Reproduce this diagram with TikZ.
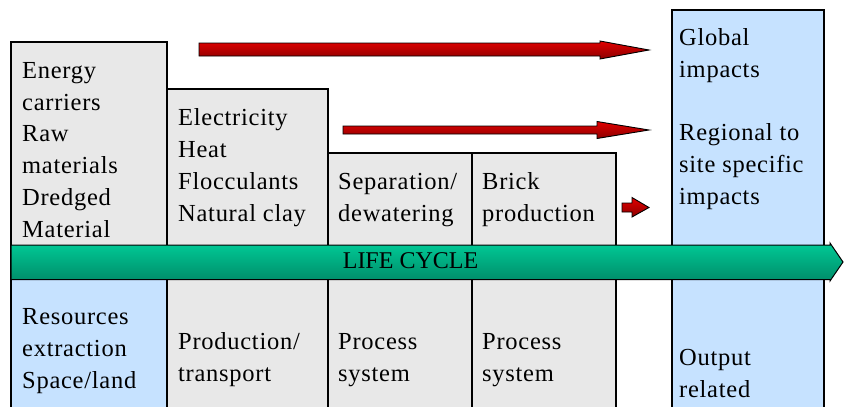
\documentclass[tikz,border=0pt]{standalone}
\usepackage{fontspec}
\setmainfont{Liberation Serif}
\newfontfamily\cellfont[LetterSpace=3]{Liberation Serif}
\definecolor{cellgray}{RGB}{232,232,232}
\definecolor{cellblue}{RGB}{198,226,255}
\definecolor{lcTop}{RGB}{0,202,150}
\definecolor{lcBot}{RGB}{0,140,105}
\definecolor{flowTop}{RGB}{225,0,0}
\definecolor{flowMid}{RGB}{235,0,0}
\definecolor{flowBot}{RGB}{140,0,0}
\begin{document}
\begin{tikzpicture}[x=1pt,y=-1pt,
  stage/.style={draw=black, line width=1.2pt, fill=cellgray},
  impact/.style={draw=black, line width=1.2pt, fill=cellblue},
  % multi-line labels are placed by the baseline of their last line
  label/.style={anchor=base west, inner sep=0pt, align=left,
    font=\cellfont\fontsize{24.5}{31.7}\selectfont},
  flow/.style={draw=black, line width=0.9pt, top color=flowTop,
    middle color=flowMid, bottom color=flowBot},
  lifecycle/.style={draw=black, line width=1pt, top color=lcTop,
    middle color=lcTop!92!black, bottom color=lcBot}]
\useasboundingbox (0,0) rectangle (844,407);
\clip (0,0) rectangle (844,407);

% upper row: inputs of each stage
\draw[stage] (11,42) rectangle (167,262);
\draw[stage] (167,89) rectangle (328,262);
\draw[stage] (328,153) rectangle (472,262);
\draw[stage] (472,153) rectangle (616,262);

% lower row: stage categories
\draw[impact] (11,262) rectangle (167,420);
\draw[stage] (167,262) rectangle (328,420);
\draw[stage] (328,262) rectangle (472,420);
\draw[stage] (472,262) rectangle (616,420);

% impact column on the right
\draw[impact] (672,10) rectangle (824,420);

% life cycle arrow
\draw[lifecycle] (11,245) -- (830,245) -- (830,243) -- (843,262)
  -- (830,281) -- (830,279.5) -- (11,279.5) -- cycle;
\node[anchor=base, inner sep=0pt, font=\fontsize{24}{28}\selectfont]
  (lc) at (410.5,268) {LIFE CYCLE};

% emission arrows towards the impact column
\draw[flow] (199,43) -- (600,43) -- (600,41) -- (649,50) -- (600,59)
  -- (600,56) -- (199,56) -- cycle;
\draw[flow] (343,126) -- (597,126) -- (597,121.5) -- (649,130)
  -- (597,138.5) -- (597,134) -- (343,134) -- cycle;
\draw[flow] (622,203) -- (632,203) -- (632,197.5) -- (649,207.5)
  -- (632,217) -- (632,212) -- (622,212) -- cycle;

% texts, upper row
\node[label] (in1) at (22,237) {Energy\\carriers\\Raw\\materials\\Dredged\\Material};
\node[label] (in2) at (178,221) {Electricity\\Heat\\Flocculants\\Natural clay};
\node[label] (in3) at (338,221) {Separation/\\dewatering};
\node[label] (in4) at (482,221) {Brick\\production};

% texts, impact column
\node[label] (glob) at (679,77) {Global\\impacts};
\node[label] (reg) at (679,204) {Regional to\\site specific\\impacts};
\node[label] (out) at (679,397) {Output\\related};

% texts, lower row
\node[label] (cat1) at (22,388) {Resources\\extraction\\Space/land};
\node[label] (cat2) at (178,381) {Production/\\transport};
\node[label] (cat3) at (338,381) {Process\\system};
\node[label] (cat4) at (482,381) {Process\\system};
\end{tikzpicture}
\end{document}
